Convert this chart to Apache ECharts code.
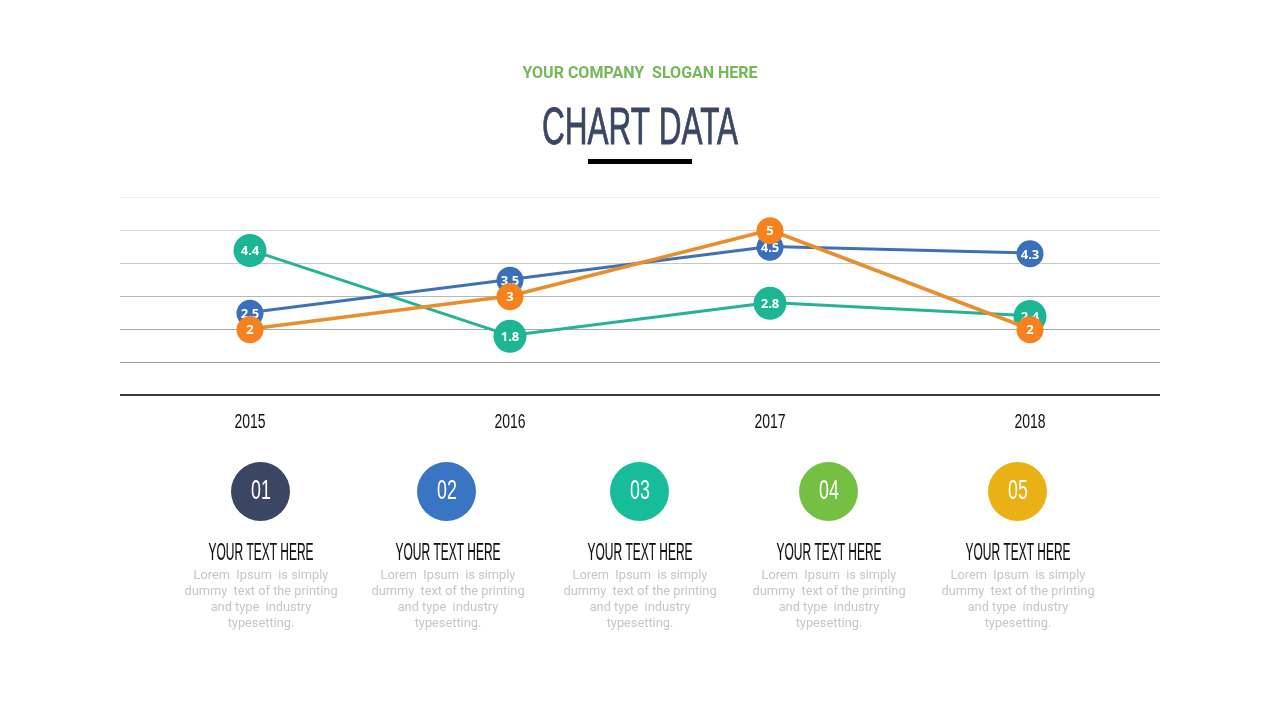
<!DOCTYPE html>
<html>

<head>
	<meta charset="UTF-8">
	<title>Chart Data</title>
	<style>
		html, body { margin: 0; padding: 0; background: #fff; }
		#display { width: 1280px; height: 720px; }
	</style>
</head>

<body>
	<div id="display"></div>
	<script src="https://cdn.jsdelivr.net/npm/echarts@6/dist/echarts.min.js"></script>
	<script>
		var years = ['2015', '2016', '2017', '2018'];
		var greenValues = [4.4, 1.8, 2.8, 2.4];
		var blueValues = [2.5, 3.5, 4.5, 4.3];
		var orangeValues = [2, 3, 5, 2];

		var stepNumbers = ['01', '02', '03', '04', '05'];
		var stepColors = ['#3b4664', '#3a75c4', '#17bc9b', '#75c043', '#eab116'];
		var circleCenters = [260, 446, 639, 828, 1017];
		var textCenters = [261, 448, 640, 829, 1018];
		var stepTitle = 'YOUR TEXT HERE';
		var stepBody = 'Lorem  Ipsum  is simply\ndummy  text of the printing\nand type  industry\ntypesetting.';

		// no condensed face installed, so squeeze Liberation Sans horizontally
		var narrow = '"Liberation Sans", sans-serif';

		function narrowText(x, y, text, size, color, scaleX, stroke) {
			return {
				type: 'text', x: x, y: y, scaleX: scaleX, silent: true,
				style: {
					x: 0, y: 0, text: text, fill: color, fontFamily: narrow, fontSize: size,
					stroke: stroke ? color : null, lineWidth: stroke || 0,
					align: 'center', verticalAlign: 'middle'
				}
			};
		}

		var graphics = [
			{
				type: 'text', x: 640, y: 74, silent: true,
				style: {
					text: 'YOUR COMPANY  SLOGAN HERE', fill: '#74b857', fontFamily: 'Roboto',
					fontWeight: 'bold', fontSize: 16, align: 'center', verticalAlign: 'middle'
				}
			},
			narrowText(640, 130, 'CHART DATA', 51, '#3b4664', 0.618, 0.8),
			{ type: 'rect', silent: true, shape: { x: 588, y: 159, width: 104, height: 5 }, style: { fill: '#000' } }
		];

		stepNumbers.forEach(function (num, i) {
			graphics.push({
				type: 'circle', silent: true,
				shape: { cx: circleCenters[i] + 0.5, cy: 491.5, r: 29.5 },
				style: { fill: stepColors[i] }
			});
			graphics.push(narrowText(circleCenters[i] + 1, 492, num, 27, '#fff', 0.66));
			graphics.push(narrowText(textCenters[i], 554, stepTitle, 23, '#111', 0.52, 0.2));
			graphics.push({
				type: 'text', x: textCenters[i], y: 600, silent: true,
				style: {
					text: stepBody, fill: '#c6c6c6', fontFamily: 'Roboto', fontSize: 12.8, lineHeight: 16,
					align: 'center', verticalAlign: 'middle'
				}
			});
		});

		function lineSeries(name, values, dotColor, lineColor, dotSize, lineWidth, z) {
			return {
				name: name,
				type: 'line',
				data: values,
				z: z,
				symbol: 'circle',
				symbolSize: dotSize,
				symbolOffset: [0, 0.7],
				showAllSymbol: true,
				animation: false,
				lineStyle: { color: lineColor, width: lineWidth },
				itemStyle: { color: dotColor },
				label: {
					show: true, position: 'inside', offset: [0, 1], color: '#fff',
					fontFamily: '"Open Sans"', fontWeight: 'bold', fontSize: 13
				}
			};
		}

		var myChart = echarts.init(document.getElementById('display'));
		myChart.setOption({
			animation: false,
			backgroundColor: '#fff',
			grid: { left: 120, right: 120, top: 197, height: 198 },
			xAxis: {
				type: 'category',
				data: years,
				axisTick: { show: false },
				axisLine: { lineStyle: { color: '#3a3a3a', width: 2, cap: 'butt' } },
				axisLabel: { show: false }
			},
			yAxis: {
				type: 'value',
				min: 0,
				max: 6,
				interval: 1,
				axisLabel: { show: false },
				axisLine: { show: false },
				axisTick: { show: false },
				splitLine: {
					lineStyle: {
						color: ['#3a3a3a', '#9a9a9a', '#a8a8a8', '#b8b8b8', '#c8c8c8', '#dadada', '#ececec'],
						width: 1
					}
				}
			},
			series: [
				lineSeries('Green', greenValues, '#1cb695', '#24b394', 33, 3, 2),
				lineSeries('Blue', blueValues, '#3a70b8', '#3f72b3', 27, 3, 3),
				lineSeries('Orange', orangeValues, '#f5821f', '#e88e2c', 27, 3.5, 4)
			],
			graphic: graphics
		});

		// year labels need the same squeeze, so they sit on the axis' own category positions
		years.forEach(function (year) {
			var x = myChart.convertToPixel({ xAxisIndex: 0 }, year);
			graphics.push(narrowText(x, 422, year, 20, '#111', 0.7));
		});
		myChart.setOption({ graphic: graphics });
	</script>
</body>

</html>
